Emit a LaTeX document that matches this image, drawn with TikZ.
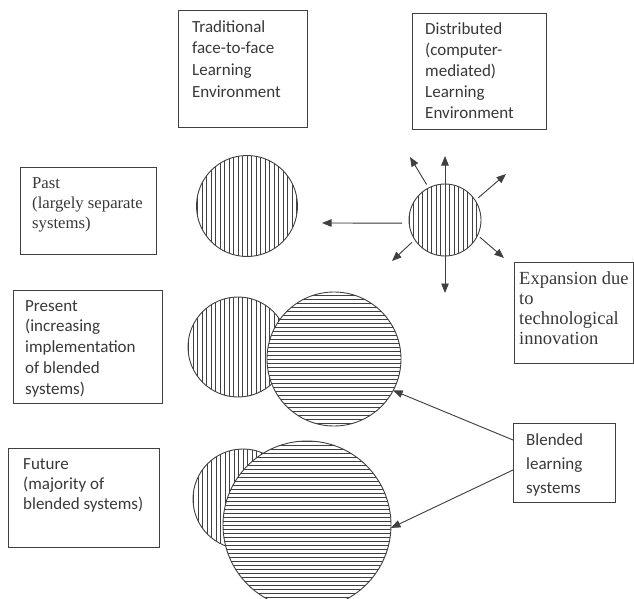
\documentclass[tikz,border=0pt]{standalone}
\usepackage{fontspec}
\setmainfont{Liberation Serif}
\newfontfamily\calfont{Carlito}
\usetikzlibrary{arrows.meta}
\definecolor{linecol}{gray}{0.25}
\definecolor{txtcol}{gray}{0.22}
\tikzset{
  box/.style={rectangle, draw=linecol, line width=0.9pt, inner sep=0pt, outer sep=0pt, anchor=north west},
  caltxt/.style={anchor=north west, inner sep=0pt, align=left, text=txtcol, font=\calfont\fontsize{17}{#1}\selectfont},
  timtxt/.style={anchor=north west, inner sep=0pt, align=left, text=txtcol, font=\fontsize{#1}{20}\selectfont},
  hatchline/.style={line width=0.7pt, draw=linecol},
  ring/.style={circle, draw=linecol, line width=0.9pt, inner sep=0pt, outer sep=0pt, fill=white},
  vhatch/.style={path picture={\foreach \i in {-30,...,30} \draw[hatchline] ([xshift=\i*4.5pt]path picture bounding box.south) -- ([xshift=\i*4.5pt]path picture bounding box.north);}},
  hhatch/.style={path picture={\foreach \i in {-30,...,30} \draw[hatchline] ([yshift=\i*4pt]path picture bounding box.west) -- ([yshift=\i*4pt]path picture bounding box.east);}},
  arr/.style={-{Triangle[length=9.5pt,width=7.5pt]}, line width=0.9pt, draw=linecol, fill=linecol}
}
\begin{document}
\begin{tikzpicture}[x=1pt,y=-1pt]
\useasboundingbox (0,0) rectangle (634,599);
% boxes
\node[box, minimum width=129pt, minimum height=117pt] (trad) at (178,10) {};
\node[caltxt=21.7] (tradt) at (192,20) {Traditional\\face-to-face\\Learning\\Environment};
\node[box, minimum width=134pt, minimum height=116pt] (dist) at (412,13) {};
\node[caltxt=21] (distt) at (425,22) {Distributed\\(computer-\\mediated)\\Learning\\Environment};
\node[box, minimum width=136pt, minimum height=87pt] (past) at (20,167) {};
\node[timtxt=16.7] (pastt) at (32,177) {Past\\(largely separate\\systems)};
\node[box, minimum width=149pt, minimum height=113pt] (pres) at (13,290) {};
\node[caltxt=20.8] (prest) at (25,300) {Present\\(increasing\\implementation\\of blended\\systems)};
\node[box, minimum width=151pt, minimum height=99pt] (fut) at (8,448) {};
\node[caltxt=20] (futt) at (23,458) {Future\\(majority of\\blended systems)};
\node[box, minimum width=119pt, minimum height=101pt] (exp) at (514,262) {};
\node[timtxt=18.5] (expt) at (519,271) {Expansion due\\to\\technological\\innovation};
\node[box, minimum width=102pt, minimum height=79pt] (blend) at (513,423) {};
\node[caltxt=24] (blendt) at (526,433) {Blended\\learning\\systems};
% circles
\node[ring, vhatch, minimum size=101pt] (pastc) at (247,206) {};
\node[ring, vhatch, minimum size=72pt] (dc) at (445,220) {};
\node[ring, vhatch, minimum size=100pt] (presv) at (238,347) {};
\node[ring, hhatch, minimum size=134pt] (presh) at (334,359) {};
\node[ring, vhatch, minimum size=100pt] (futv) at (243,499) {};
\node[ring, hhatch, minimum size=168pt] (futh) at (307,525) {};
% expansion arrows
\coordinate (eL) at (322,223);
\coordinate (eU) at (445,156);
\coordinate (eUL) at (410,157);
\coordinate (eUR) at (506,174);
\coordinate (eDL) at (392,261);
\coordinate (eDR) at (504,258);
\coordinate (eD) at (445,293);
\draw[arr, shorten <=7pt] (dc.185) -- (eL);
\draw[arr] (dc.north) -- (eU);
\draw[arr, shorten <=4pt] (dc.117) -- (eUL);
\draw[arr, shorten <=4pt] (dc.33) -- (eUR);
\draw[arr, shorten <=4pt] (dc.213) -- (eDL);
\draw[arr, shorten <=3pt] (dc.335) -- (eDR);
\draw[arr] (dc.south) -- (eD);
% blended arrows
\draw[arr] ([yshift=22.5pt]blend.west) -- (presh.-28);
\draw[arr] ([yshift=-7.5pt]blend.west) -- (futh.-2);
\end{tikzpicture}
\end{document}
